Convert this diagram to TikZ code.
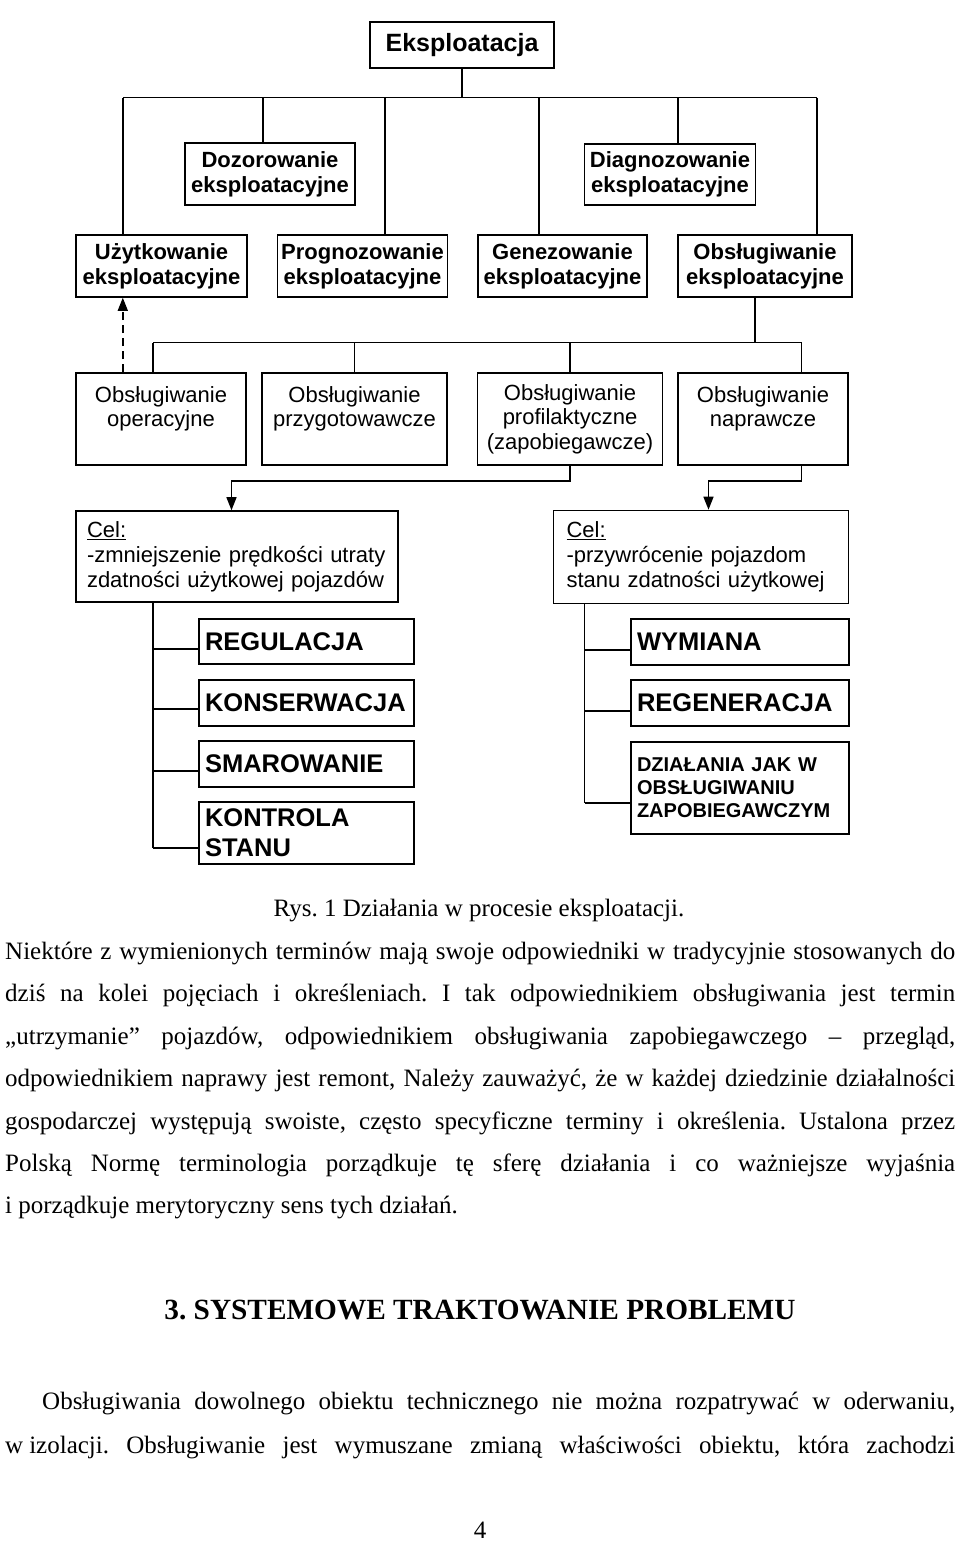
\documentclass[tikz,border=0pt]{standalone}
\usepackage{fontspec}
\setmainfont{Liberation Serif}
\newfontfamily\arialfont{Liberation Sans}
\frenchspacing
\usetikzlibrary{arrows.meta}
\pgfdeclarelayer{nodelayer}
\pgfdeclarelayer{edgelayer}
\pgfsetlayers{edgelayer,nodelayer,main}
\tikzstyle{bold box}=[fill=white, draw=black, shape=rectangle, line width=1.6pt, align=center, inner sep=0pt, font=\arialfont\bfseries\fontsize{22}{25}\selectfont]
\tikzstyle{head box}=[bold box, font=\arialfont\bfseries\fontsize{25}{30}\selectfont]
\tikzstyle{light box}=[bold box, font=\arialfont\fontsize{22}{24.5}\selectfont]
\tikzstyle{goal box}=[fill=white, draw=black, shape=rectangle, line width=1.6pt, align=left, inner xsep=11pt, inner ysep=0pt, font=\arialfont\fontsize{22}{25}\selectfont]
\tikzstyle{task box}=[fill=white, draw=black, shape=rectangle, line width=1.6pt, align=left, inner xsep=6pt, inner ysep=0pt, text width=203pt, font=\arialfont\bfseries\fontsize{25.5}{30}\selectfont]
\tikzstyle{small task box}=[task box, text width=206pt, font=\arialfont\bfseries\fontsize{20}{23}\selectfont]
\tikzstyle{none}=[fill=none, draw=none, shape=circle, scale=0]
\tikzstyle{plain edge}=[draw=black, line width=1.4pt]
\tikzstyle{arrow edge}=[draw=black, line width=1.4pt, -{Triangle[length=13pt,width=10pt]}]
\tikzstyle{dashed edge}=[arrow edge, dash pattern=on 8pt off 5pt]
\tikzstyle{body line}=[inner sep=0pt, anchor=base west, font=\fontsize{25}{30}\selectfont]
\tikzstyle{title line}=[inner sep=0pt, anchor=base, font=\fontsize{25}{30}\selectfont]

\begin{document}
\begin{tikzpicture}[x=1pt, y=-1pt]
	\useasboundingbox (0, 0) rectangle (960, 1541);
	\begin{pgfonlayer}{nodelayer}
		\node [style=head box, minimum width=184pt, minimum height=46pt] (0) at (462, 45) {Eksploatacja};
		\node [style=bold box, minimum width=170pt, minimum height=62pt] (1) at (270, 174) {Dozorowanie\\eksploatacyjne};
		\node [style=bold box, minimum width=171pt, minimum height=61pt] (2) at (670, 174.5) {Diagnozowanie\\eksploatacyjne};
		\node [style=bold box, minimum width=171pt, minimum height=62pt] (3) at (161.5, 266) {Użytkowanie\\eksploatacyjne};
		\node [style=bold box, minimum width=170pt, minimum height=62pt] (4) at (362.5, 266) {Prognozowanie\\eksploatacyjne};
		\node [style=bold box, minimum width=169pt, minimum height=62pt] (5) at (562.5, 266) {Genezowanie\\eksploatacyjne};
		\node [style=bold box, minimum width=174pt, minimum height=62pt] (6) at (765, 266) {Obsługiwanie\\eksploatacyjne};
		\node [style=light box, minimum width=170pt, minimum height=92pt] (7) at (161, 419) {Obsługiwanie\\operacyjne\\\mbox{}};
		\node [style=light box, minimum width=185pt, minimum height=92pt] (8) at (354.5, 419) {Obsługiwanie\\przygotowawcze\\\mbox{}};
		\node [style=light box, minimum width=185pt, minimum height=92pt] (9) at (570, 419) {Obsługiwanie\\profilaktyczne\\(zapobiegawcze)};
		\node [style=light box, minimum width=170pt, minimum height=92pt] (10) at (763, 419) {Obsługiwanie\\naprawcze\\\mbox{}};
		\node [style=goal box, text width=300pt, minimum height=91pt] (11) at (237, 556.5) {\underline{Cel:}\\-zmniejszenie prędkości utraty\\zdatności użytkowej pojazdów};
		\node [style=goal box, inner xsep=13pt, text width=269pt, minimum height=93pt] (12) at (701, 557) {\underline{Cel:}\\-przywrócenie pojazdom\\stanu zdatności użytkowej};
		\node [style=task box, minimum height=45pt] (13) at (306.5, 641.5) {REGULACJA};
		\node [style=task box, minimum height=46pt] (14) at (306.5, 703) {KONSERWACJA};
		\node [style=task box, minimum height=46pt] (15) at (306.5, 764) {SMAROWANIE};
		\node [style=task box, minimum height=62pt] (16) at (306.5, 833) {KONTROLA\\STANU};
		\node [style=task box, text width=206pt, minimum height=46pt] (17) at (740, 642) {WYMIANA};
		\node [style=task box, text width=206pt, minimum height=46pt] (18) at (740, 703) {REGENERACJA};
		\node [style=small task box, minimum height=92pt] (19) at (740, 788) {DZIAŁANIA JAK W\\OBSŁUGIWANIU\\ZAPOBIEGAWCZYM};
		\node [style=none] (20) at (462, 97.7) {};
		\node [style=none] (21) at (122.8, 97.7) {};
		\node [style=none] (22) at (263, 97.7) {};
		\node [style=none] (23) at (385, 97.7) {};
		\node [style=none] (24) at (539, 97.7) {};
		\node [style=none] (25) at (678, 97.7) {};
		\node [style=none] (26) at (817, 97.7) {};
		\node [style=none] (27) at (755, 342.7) {};
		\node [style=none] (28) at (153, 342.7) {};
		\node [style=none] (29) at (354.5, 342.7) {};
		\node [style=none] (30) at (570, 342.7) {};
		\node [style=none] (31) at (801.6, 342.7) {};
		\node [style=none] (32) at (570, 481) {};
		\node [style=none] (33) at (231.5, 481) {};
		\node [style=none] (34) at (801.6, 481) {};
		\node [style=none] (35) at (708.5, 481) {};
		\node [style=none] (36) at (153, 649) {};
		\node [style=none] (37) at (153, 709) {};
		\node [style=none] (38) at (153, 771) {};
		\node [style=none] (39) at (153, 848) {};
		\node [style=none] (40) at (584.6, 650) {};
		\node [style=none] (41) at (584.6, 711) {};
		\node [style=none] (42) at (584.6, 803) {};
		\node [style=title line] (50) at (479, 916) {Rys. 1 Działania w procesie eksploatacji.};
		\node [style=body line] (51) at (5, 959) {\makebox[950pt][s]{Niektóre z wymienionych terminów mają swoje odpowiedniki w tradycyjnie stosowanych do}};
		\node [style=body line] (52) at (5, 1001) {\makebox[950pt][s]{dziś na kolei pojęciach i określeniach. I tak odpowiednikiem obsługiwania jest termin}};
		\node [style=body line] (53) at (5, 1044) {\makebox[950pt][s]{„utrzymanie” pojazdów, odpowiednikiem obsługiwania zapobiegawczego – przegląd,}};
		\node [style=body line] (54) at (5, 1086) {\makebox[950pt][s]{odpowiednikiem naprawy jest remont, Należy zauważyć, że w każdej dziedzinie działalności}};
		\node [style=body line] (55) at (5, 1129) {\makebox[950pt][s]{gospodarczej występują swoiste, często specyficzne terminy i określenia. Ustalona przez}};
		\node [style=body line] (56) at (5, 1171) {\makebox[950pt][s]{Polską Normę terminologia porządkuje tę sferę działania i co ważniejsze wyjaśnia}};
		\node [style=body line] (57) at (5, 1213) {i porządkuje merytoryczny sens tych działań.};
		\node [style=title line, font=\bfseries\fontsize{29.3}{34}\selectfont] (58) at (480, 1319) {3. SYSTEMOWE TRAKTOWANIE PROBLEMU};
		\node [style=body line] (59) at (42, 1409) {\makebox[913pt][s]{Obsługiwania dowolnego obiektu technicznego nie można rozpatrywać w oderwaniu,}};
		\node [style=body line] (60) at (5, 1453) {\makebox[950pt][s]{w\kern6pt izolacji. Obsługiwanie jest wymuszane zmianą właściwości obiektu, która zachodzi}};
		\node [style=title line] (61) at (480, 1538) {4};
	\end{pgfonlayer}
	\begin{pgfonlayer}{edgelayer}
		\draw [style=plain edge] (0) to (20.center);
		\draw [style=plain edge] (21.center) to (26.center);
		\draw [style=plain edge] (21.center) to (21.center |- 3.north);
		\draw [style=plain edge] (22.center) to (22.center |- 1.north);
		\draw [style=plain edge] (23.center) to (23.center |- 4.north);
		\draw [style=plain edge] (24.center) to (24.center |- 5.north);
		\draw [style=plain edge] (25.center) to (25.center |- 2.north);
		\draw [style=plain edge] (26.center) to (26.center |- 6.north);
		\draw [style=dashed edge] (21.center |- 7.north) to (21.center |- 3.south);
		\draw [style=plain edge] (27.center |- 6.south) to (27.center);
		\draw [style=plain edge] (28.center) to (31.center);
		\draw [style=plain edge] (28.center) to (28.center |- 7.north);
		\draw [style=plain edge] (29.center) to (29.center |- 8.north);
		\draw [style=plain edge] (30.center) to (30.center |- 9.north);
		\draw [style=plain edge] (31.center) to (31.center |- 10.north);
		\draw [style=arrow edge] (32.center |- 9.south) to (32.center) to (33.center) to (33.center |- 11.north);
		\draw [style=arrow edge] (34.center |- 10.south) to (34.center) to (35.center) to (35.center |- 12.north);
		\draw [style=plain edge] (11.south -| 36.center) to (39.center);
		\draw [style=plain edge] (36.center) to (36.center -| 13.west);
		\draw [style=plain edge] (37.center) to (37.center -| 14.west);
		\draw [style=plain edge] (38.center) to (38.center -| 15.west);
		\draw [style=plain edge] (39.center) to (39.center -| 16.west);
		\draw [style=plain edge] (12.south -| 40.center) to (42.center);
		\draw [style=plain edge] (40.center) to (40.center -| 17.west);
		\draw [style=plain edge] (41.center) to (41.center -| 18.west);
		\draw [style=plain edge] (42.center) to (42.center -| 19.west);
	\end{pgfonlayer}
\end{tikzpicture}
\end{document}
